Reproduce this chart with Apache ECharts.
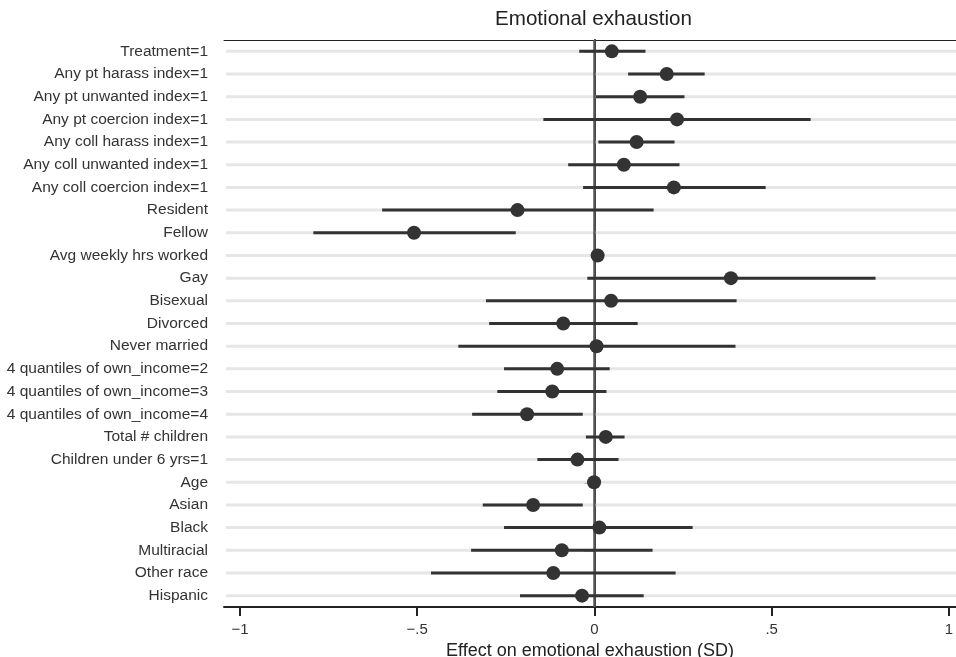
<!DOCTYPE html>
<html>
<head>
<meta charset="utf-8">
<script src="https://cdn.jsdelivr.net/npm/echarts@6/dist/echarts.min.js"></script>
<style>
html,body{margin:0;padding:0;background:#fff;}
#chart{width:956px;height:657px;}
</style>
</head>
<body>
<div id="chart"></div>
<script>
var categories = [
  'Treatment=1','Any pt harass index=1','Any pt unwanted index=1','Any pt coercion index=1',
  'Any coll harass index=1','Any coll unwanted index=1','Any coll coercion index=1',
  'Resident','Fellow','Avg weekly hrs worked','Gay','Bisexual','Divorced','Never married',
  '4 quantiles of own_income=2','4 quantiles of own_income=3','4 quantiles of own_income=4',
  'Total # children','Children under 6 yrs=1','Age','Asian','Black','Multiracial','Other race','Hispanic'
];
var coef   = [0.049, 0.204, 0.129, 0.233, 0.119, 0.083, 0.224, -0.217, -0.509, 0.009, 0.385, 0.047, -0.088, 0.006, -0.105, -0.119, -0.190, 0.032, -0.048, -0.001, -0.173, 0.014, -0.092, -0.116, -0.035];
var ciLow  = [-0.043, 0.095, 0.004, -0.144, 0.011, -0.074, -0.032, -0.599, -0.793, 0.004, -0.020, -0.306, -0.297, -0.384, -0.255, -0.274, -0.345, -0.024, -0.161, -0.005, -0.315, -0.255, -0.348, -0.461, -0.210];
var ciHigh = [0.144, 0.311, 0.254, 0.610, 0.226, 0.240, 0.483, 0.167, -0.222, 0.014, 0.793, 0.401, 0.122, 0.398, 0.043, 0.034, -0.033, 0.085, 0.068, 0.003, -0.033, 0.277, 0.164, 0.229, 0.139];
var xTicks = [-1, -0.5, 0, 0.5, 1];
var xTickLabels = ['\u22121', '\u2212.5', '0', '.5', '1'];
var titleText = 'Emotional exhaustion';
var xAxisTitle = 'Effect on emotional exhaustion (SD)';

var FONT = 'Liberation Sans, Arial, Helvetica, sans-serif';
var chart = echarts.init(document.getElementById('chart'), null, {renderer: 'canvas'});

var ciData = categories.map(function (c, i) { return [i, ciLow[i], ciHigh[i]]; });
var ptData = categories.map(function (c, i) { return [coef[i], i]; });
var gridData = categories.map(function (c, i) { return [i]; });

var option = {
  animation: false,
  backgroundColor: '#ffffff',
  title: {
    text: titleText,
    left: 495, top: 9, padding: 0,
    textStyle: {fontFamily: FONT, fontSize: 20.6, fontWeight: 'normal', color: '#222'}
  },
  grid: {left: 224, right: 0, top: 40, bottom: 50, containLabel: false, outerBoundsMode: 'none'},
  xAxis: [{
    type: 'value', min: -1.045, max: 1.02,
    position: 'bottom',
    axisLine: {show: true, lineStyle: {color: '#222', width: 2}},
    axisTick: {show: true, length: 9, lineStyle: {color: '#222', width: 2}, customValues: xTicks},
    axisLabel: {
      show: true, margin: 15, fontFamily: FONT, fontSize: 15, color: '#333',
      customValues: xTicks,
      formatter: function (v) { var k = xTicks.indexOf(v); return k >= 0 ? xTickLabels[k] : ''; }
    },
    splitLine: {show: false},
    name: xAxisTitle, nameLocation: 'middle', nameGap: 30,
    nameTextStyle: {fontFamily: FONT, fontSize: 18, color: '#222'}
  }, {
    type: 'value', min: -1.045, max: 1.02, position: 'top',
    axisLine: {show: true, lineStyle: {color: '#222', width: 1}},
    axisTick: {show: false}, axisLabel: {show: false}, splitLine: {show: false}
  }],
  yAxis: {
    type: 'category', data: categories, inverse: true, boundaryGap: true,
    axisLine: {show: true, lineStyle: {color: '#222', width: 2}},
    axisTick: {show: true, alignWithLabel: true, length: 10, lineStyle: {color: '#222', width: 2}},
    axisLabel: {margin: 16, fontFamily: FONT, fontSize: 15.5, color: '#333', interval: 0},
    splitLine: {show: false}
  },
  series: [
    {
      type: 'custom', z: 1, silent: true,
      data: gridData,
      encode: {y: 0},
      renderItem: function (params, api) {
        var cs = params.coordSys;
        var p = api.coord([0, api.value(0)]);
        return {type: 'line', shape: {x1: cs.x + 2, y1: p[1], x2: cs.x + cs.width, y2: p[1]},
                style: {stroke: '#e6e6e6', lineWidth: 3}};
      }
    },
    {
      type: 'custom', z: 3, silent: true,
      data: ciData,
      encode: {x: [1, 2], y: 0},
      renderItem: function (params, api) {
        var y = api.value(0);
        var a = api.coord([api.value(1), y]);
        var b = api.coord([api.value(2), y]);
        return {type: 'line', shape: {x1: a[0], y1: a[1], x2: b[0], y2: b[1]},
                style: {stroke: '#333333', lineWidth: 3}};
      }
    },
    {
      type: 'scatter', z: 4, silent: true,
      data: ptData, symbol: 'circle', symbolSize: 14,
      itemStyle: {color: '#333333', opacity: 1},
      markLine: {
        silent: true, symbol: ['none', 'none'], label: {show: false}, z: 2,
        lineStyle: {color: '#555555', width: 2.5, type: 'solid', opacity: 1},
        data: [{xAxis: 0}]
      }
    }
  ]
};
chart.setOption(option);
</script>
</body>
</html>
